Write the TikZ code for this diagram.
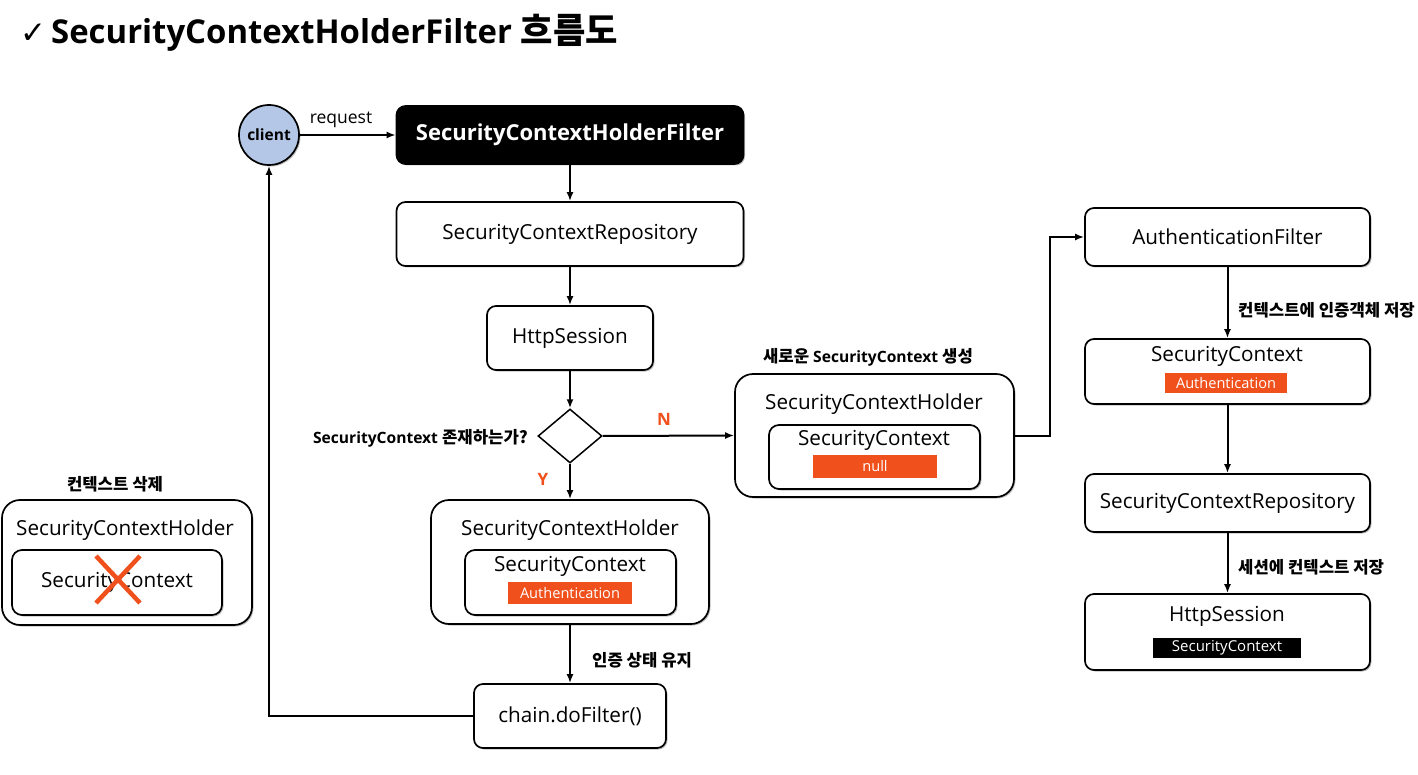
\documentclass[tikz,border=0pt]{standalone}
\usepackage{fontspec}
\setmainfont{Open Sans}
\newfontfamily\kr[Scale=1.07]{Noto Sans CJK KR}
\newfontfamily\sym{DejaVu Sans}
\usetikzlibrary{shapes.geometric,shadows,arrows.meta}
\definecolor{accent}{RGB}{240,80,28}
\definecolor{clientblue}{RGB}{180,199,231}
\tikzset{
  box/.style={draw, line width=1.7pt, rounded corners=9pt, fill=white, inner sep=0pt,
    drop shadow={shadow xshift=1.5pt, shadow yshift=-1.5pt, opacity=0.35, fill=black!70}},
  bigbox/.style={box, rounded corners=18pt},
  innerbox/.style={box, rounded corners=10pt},
  bar/.style={fill=accent, text=white, inner sep=0pt, font=\fontsize{14.6}{15}\selectfont},
  blackbar/.style={fill=black, text=white, inner sep=0pt, font=\fontsize{15}{15}\selectfont},
  lbl/.style={font=\bfseries\fontsize{15.6}{16}\selectfont},
  conn/.style={line width=2pt, -{Latex[length=9pt,width=7pt]}},
  txt/.style={font=\fontsize{20.7}{21}\selectfont, inner sep=0pt}
}
\begin{document}
\begin{tikzpicture}[x=1pt,y=-1pt]
\fill[white] (0,0) rectangle (1418,775);
\useasboundingbox (0,0) rectangle (1418,775);

% title
\node[anchor=west, inner sep=0pt, font=\bfseries\fontsize{32.9}{36}\selectfont] (title) at (20,33)
  {{\sym\bfseries\fontsize{31}{31}\selectfont ✓}\hspace{5pt}SecurityContextHolderFilter {\kr 흐름도}};

% client
\node[circle, draw, line width=1.7pt, fill=clientblue, minimum size=60pt, inner sep=0pt,
  font=\bfseries\fontsize{15.5}{16}\selectfont,
  drop shadow={shadow xshift=1.5pt, shadow yshift=-1.5pt, opacity=0.35, fill=black!70}] (client) at (269,135) {client};
\node[font=\fontsize{17.5}{18}\selectfont] (req) at (341,120) {request};

% main column
\node[box, fill=black, text=white, minimum width=347pt, minimum height=58pt,
  font=\bfseries\fontsize{22}{24}\selectfont] (filter) at (570,135) {SecurityContextHolderFilter};
\node[box, txt, minimum width=347pt, minimum height=64pt] (repo1) at (570,234) {SecurityContextRepository};
\node[box, txt, minimum width=166pt, minimum height=64pt] (sess1) at (570,338) {HttpSession};
\node[diamond, draw, line width=1.5pt, fill=white, minimum width=64pt, minimum height=54pt, inner sep=0pt] (dia) at (570,436) {};
\node[lbl, anchor=east, inner sep=0pt] (q) at (528,438) {SecurityContext {\kr 존재하는가?}};
\node[font=\bfseries\fontsize{17}{17}\selectfont, text=accent] (nlab) at (664,419) {N};
\node[font=\bfseries\fontsize{17}{17}\selectfont, text=accent] (ylab) at (543,479) {Y};

% holder Y
\node[bigbox, minimum width=278pt, minimum height=124pt] (holdY) at (570,562) {};
\node[txt] (holdYt) at (570,530) {SecurityContextHolder};
\node[innerbox, minimum width=211pt, minimum height=65pt] (scY) at (570.5,582.5) {};
\node[txt] (scYt) at (570,566) {SecurityContext};
\node[bar, minimum width=124pt, minimum height=22pt] (authY) at (570,593) {Authentication};
\node[lbl, anchor=west, inner sep=0pt] (keep) at (592,660) {\kr 인증 상태 유지};
\node[box, txt, minimum width=192pt, minimum height=64pt] (chain) at (570,716) {chain.doFilter()};

% holder N
\node[lbl, inner sep=0pt] (newlbl) at (868,357) {{\kr 새로운} SecurityContext {\kr 생성}};
\node[bigbox, minimum width=279pt, minimum height=123pt] (holdN) at (874.5,435.5) {};
\node[txt] (holdNt) at (874,404) {SecurityContextHolder};
\node[innerbox, minimum width=211pt, minimum height=64pt] (scN) at (874.5,457) {};
\node[txt] (scNt) at (874,440) {SecurityContext};
\node[bar, minimum width=124pt, minimum height=23pt] (nullN) at (875,466.5) {null};

% left holder
\node[lbl, inner sep=0pt] (dellbl) at (115,484) {\kr 컨텍스트 삭제};
\node[bigbox, minimum width=250pt, minimum height=125pt] (holdL) at (127,562.5) {};
\node[txt] (holdLt) at (125,530) {SecurityContextHolder};
\node[innerbox, minimum width=210pt, minimum height=65pt] (scL) at (117,582.5) {};
\node[txt] (scLt) at (117,582) {SecurityContext};
\draw[accent, line width=4.5pt] (96,556) -- (140,603) (140,556) -- (96,603);

% right column
\node[box, txt, minimum width=285pt, minimum height=58pt] (authf) at (1227.5,237) {AuthenticationFilter};
\node[lbl, anchor=west, inner sep=0pt] (store1) at (1238,310) {\kr 컨텍스트에 인증객체 저장};
\node[box, minimum width=285pt, minimum height=65pt] (scR) at (1227.5,371.5) {};
\node[txt] (scRt) at (1227,356) {SecurityContext};
\node[bar, minimum width=122pt, minimum height=20pt] (authR) at (1226,383) {Authentication};
\node[box, txt, minimum width=285pt, minimum height=58pt] (repo2) at (1227.5,503) {SecurityContextRepository};
\node[lbl, anchor=west, inner sep=0pt] (store2) at (1238,567) {\kr 세션에 컨텍스트 저장};
\node[box, minimum width=285pt, minimum height=76pt] (sess2) at (1227.5,632) {};
\node[txt] (sess2t) at (1227,616) {HttpSession};
\node[blackbar, minimum width=148pt, minimum height=20pt] (scbar) at (1227,648) {SecurityContext};

% connectors
\draw[conn] (client.east) -- (filter.west);
\draw[conn] (filter.south) -- (repo1.north);
\draw[conn] (repo1.south) -- (sess1.north);
\draw[conn] (sess1.south) -- (dia.north);
\draw[conn] (dia.east) -- (holdN.west);
\draw[conn] (dia.south) -- (holdY.north);
\draw[conn] (holdY.south) -- (chain.north);
\draw[conn] (chain.west) -| (client.south);
\draw[conn] (holdN.east) -- ++(35,0) |- (authf.west);
\draw[conn] (authf.south) -- (scR.north);
\draw[conn] (scR.south) -- (repo2.north);
\draw[conn] (repo2.south) -- (sess2.north);
\end{tikzpicture}
\end{document}
